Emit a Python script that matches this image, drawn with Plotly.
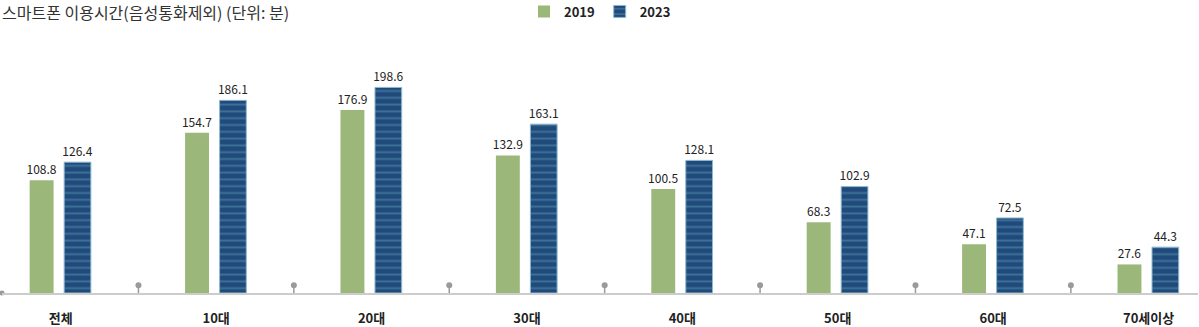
import plotly.graph_objects as go

categories = ["전체", "10대", "20대", "30대", "40대", "50대", "60대", "70세이상"]
values_2019 = [108.8, 154.7, 176.9, 132.9, 100.5, 68.3, 47.1, 27.6]
values_2023 = [126.4, 186.1, 198.6, 163.1, 128.1, 102.9, 72.5, 44.3]
series_names = ["2019", "2023"]
title_text = "스마트폰 이용시간(음성통화제외) (단위: 분)"

FONT = "Noto Sans CJK KR, Noto Sans, sans-serif"
GREEN = "#9bb87a"
NAVY = "#214a7c"
STRIPE = "#5c9bb4"
GRAY = "#9a9a9a"

xs = list(range(len(categories)))
x_left, x_right = -0.378, 7.318

fig = go.Figure()

fig.add_trace(go.Bar(
    x=xs, y=values_2019, name=series_names[0],
    width=0.154, offset=-0.2,
    marker=dict(color=GREEN, line=dict(width=0)),
    text=[f"{v:.1f}" for v in values_2019], textposition="outside",
    constraintext="none",
    textfont=dict(family=FONT, size=12, color="#222"),
    cliponaxis=False,
))
fig.add_trace(go.Bar(
    x=xs, y=values_2023, name=series_names[1],
    width=0.172, offset=0.022,
    marker=dict(color=NAVY, line=dict(width=1, color="#8db9cf"),
                pattern=dict(shape="-", bgcolor=NAVY, fgcolor=STRIPE,
                             size=6.8, solidity=0.28)),
    text=[f"{v:.1f}" for v in values_2023], textposition="outside",
    constraintext="none",
    textfont=dict(family=FONT, size=12, color="#222"),
    cliponaxis=False,
))

# boundary pins between categories
bx = [i + 0.5 for i in range(len(categories) - 1)]
pin_h = 7.5
fig.add_trace(go.Scatter(
    x=bx, y=[pin_h] * len(bx), mode="markers", showlegend=False, hoverinfo="skip",
    marker=dict(color=GRAY, size=6),
    error_y=dict(type="data", symmetric=False, array=[0] * len(bx),
                 arrayminus=[pin_h] * len(bx), color=GRAY, thickness=1.5, width=0),
    cliponaxis=False,
))
# left end dot of axis line
fig.add_trace(go.Scatter(
    x=[x_left], y=[0], mode="markers", showlegend=False, hoverinfo="skip",
    marker=dict(color=GRAY, size=5), cliponaxis=False,
))

fig.update_layout(
    width=1199, height=327,
    margin=dict(l=2, r=1, t=40, b=34, autoexpand=False),
    paper_bgcolor="white", plot_bgcolor="white",
    barmode="overlay",
    font=dict(family=FONT, color="#222"),
    showlegend=True,
    legend=dict(orientation="h", x=0.5, xanchor="center", y=1.172, yref="paper",
                yanchor="top", font=dict(family=FONT, size=13, color="#222", weight="bold"),
                itemwidth=30, traceorder="normal", bgcolor="rgba(0,0,0,0)",
                borderwidth=0),
    annotations=[dict(text=title_text, xref="paper", yref="paper", x=-0.0017, y=1.11,
                      xanchor="left", yanchor="middle", showarrow=False,
                      font=dict(family=FONT, size=16, color="#333"))],
)
fig.update_xaxes(
    range=[x_left, x_right], tickmode="array", tickvals=xs, ticktext=categories,
    tickfont=dict(family=FONT, size=13, color="#222", weight="bold"),
    ticks="", ticklabelstandoff=12, automargin=False,
    showline=True, linecolor="#cccccc", linewidth=2, showgrid=False, zeroline=False,
)
fig.update_yaxes(range=[0, 244.4], visible=False, showgrid=False, zeroline=False,
                 automargin=False)

fig.write_html("out.html")
